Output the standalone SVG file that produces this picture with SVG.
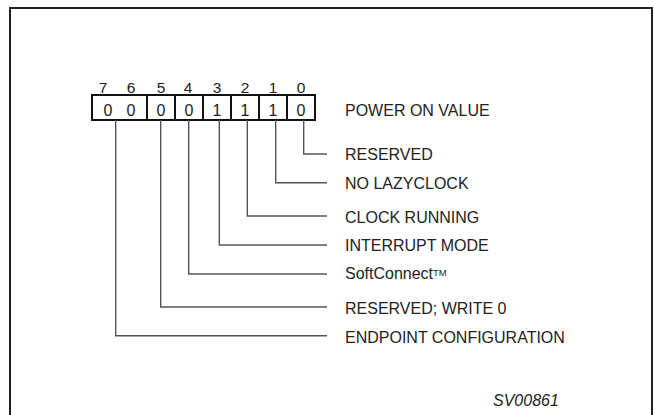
<svg xmlns="http://www.w3.org/2000/svg" width="654" height="415" viewBox="0 0 654 415">
<style>
text{font-family:"Liberation Sans",Arial,sans-serif;fill:#222}
.lbl{font-size:16px}
.hd{font-size:15.5px;text-anchor:middle}
.val{font-size:16px;text-anchor:middle}
.box{fill:none;stroke:#111;stroke-width:2}
.ld{fill:none;stroke:#555;stroke-width:1.4}
</style>
<rect width="654" height="415" fill="#fff"/>
<rect x="10" y="8" width="642" height="420" fill="none" stroke="#222" stroke-width="2"/>
<g id="register">
<rect class="box" x="92" y="95" width="223" height="25"/>
<path class="box" d="M147 95V120M175 95V120M203 95V120M231 95V120M259 95V120M287 95V120"/>
<text class="hd" x="103" y="93">7</text>
<text class="hd" x="131" y="93">6</text>
<text class="hd" x="161" y="93">5</text>
<text class="hd" x="188" y="93">4</text>
<text class="hd" x="217" y="93">3</text>
<text class="hd" x="245" y="93">2</text>
<text class="hd" x="273" y="93">1</text>
<text class="hd" x="301" y="93">0</text>
<text class="val" x="108" y="115.5">0</text>
<text class="val" x="131" y="115.5">0</text>
<text class="val" x="161" y="115.5">0</text>
<text class="val" x="189" y="115.5">0</text>
<text class="val" x="217" y="115.5">1</text>
<text class="val" x="245" y="115.5">1</text>
<text class="val" x="273" y="115.5">1</text>
<text class="val" x="301" y="115.5">0</text>
<text class="lbl" x="345" y="115.7">POWER ON VALUE</text>
</g>
<g id="connectors">
<path class="ld" d="M303.7 120V154H327"/>
<path class="ld" d="M275.7 120V182.7H327"/>
<path class="ld" d="M247.3 120V216H327"/>
<path class="ld" d="M219.3 120V245H327"/>
<path class="ld" d="M188.7 120V274H327"/>
<path class="ld" d="M160.7 120V307H327"/>
<path class="ld" d="M115.7 120V335.7H327"/>
</g>
<g id="bit0"><text class="lbl" x="345" y="159.5">RESERVED</text></g>
<g id="bit1"><text class="lbl" x="345" y="189.3">NO LAZYCLOCK</text></g>
<g id="bit2"><text class="lbl" x="345" y="222.7">CLOCK RUNNING</text></g>
<g id="bit3"><text class="lbl" x="345" y="251">INTERRUPT MODE</text></g>
<g id="bit4"><text class="lbl" x="345" y="279.3">SoftConnect<tspan font-size="9.5" dy="-3">TM</tspan></text></g>
<g id="bit5"><text class="lbl" x="345" y="314.3">RESERVED; WRITE 0</text></g>
<g id="bit67"><text class="lbl" x="345" y="342.7">ENDPOINT CONFIGURATION</text></g>
<g id="code"><text class="lbl" x="493" y="405.5" font-style="italic">SV00861</text></g>
</svg>
